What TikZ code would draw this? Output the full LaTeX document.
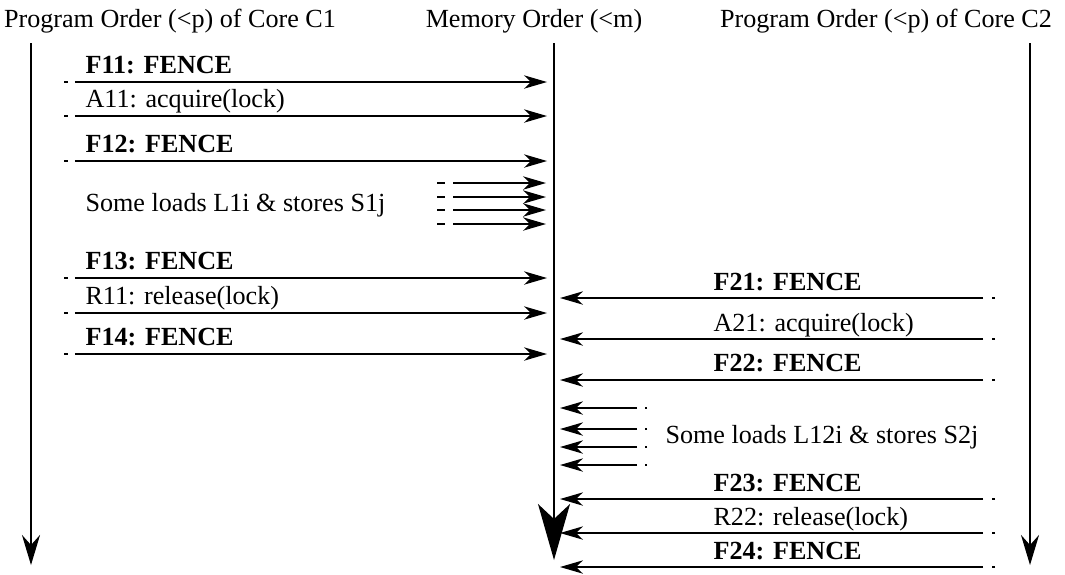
\documentclass[tikz,border=0pt]{standalone}
\usepackage{fontspec}
\setmainfont{Liberation Serif}
\usetikzlibrary{arrows.meta}
\begin{document}
\begin{tikzpicture}[x=0.375pt,y=-0.375pt,
  txt/.style={inner sep=0pt, font=\fontsize{9.8}{11}\selectfont},
  lbl/.style={txt, anchor=base west},
  ttl/.style={txt, anchor=base},
  msg/.style={line width=0.5pt, -{Stealth[length=8.6pt,width=5pt,inset=2.6pt]}},
  lmain/.style={msg, dash pattern=on 1.5pt off 2.6pt on 400pt},
  lsmall/.style={msg, dash pattern=on 3pt off 3pt on 400pt},
  rmain/.style={msg, dash pattern=on 1.1pt off 3.4pt on 400pt},
  rsmall/.style={msg, dash pattern=on 0.75pt off 3pt on 400pt},
  tline/.style={line width=0.5pt, -{Stealth[length=11.3pt,width=6.8pt,inset=3.8pt]}},
  mline/.style={line width=0.5pt, -{Stealth[length=21pt,width=12pt,inset=5.6pt]}},
]
\useasboundingbox (0,0) rectangle (1065,574);

% titles
\node[ttl] (t1) at (170,27) {Program Order (<p) of Core C1};
\node[ttl] (tm) at (534,27) {Memory Order (<m)};
\node[ttl] (t2) at (886,27) {Program Order (<p) of Core C2};

% time lines
\coordinate (c1a) at (31,43);  \coordinate (c1b) at (31,565);
\coordinate (ma)  at (554,43); \coordinate (mb)  at (554,560);
\coordinate (c2a) at (1030,43); \coordinate (c2b) at (1030,565);
\draw[tline] (c1a) -- (c1b);
\draw[mline] (ma) -- (mb);
\draw[tline] (c2a) -- (c2b);

% core 1 labels
\node[lbl] (lf11) at (85,73)  {\textbf{F11: FENCE}};
\node[lbl] (la11) at (85,107) {A11: acquire(lock)};
\node[lbl] (lf12) at (85,152) {\textbf{F12: FENCE}};
\node[lbl] (ls1)  at (85,211) {Some loads L1i \& stores S1j};
\node[lbl] (lf13) at (85,269) {\textbf{F13: FENCE}};
\node[lbl] (lr11) at (85,304) {R11: release(lock)};
\node[lbl] (lf14) at (85,345) {\textbf{F14: FENCE}};

% core 1 arrows
\coordinate (f11s) at (64,82);  \coordinate (f11e) at (547,82);
\coordinate (a11s) at (64,116); \coordinate (a11e) at (547,116);
\coordinate (f12s) at (64,161); \coordinate (f12e) at (547,161);
\coordinate (f13s) at (64,278); \coordinate (f13e) at (547,278);
\coordinate (r11s) at (64,313); \coordinate (r11e) at (547,313);
\coordinate (f14s) at (64,354); \coordinate (f14e) at (547,354);
\draw[lmain] (f11s) -- (f11e);
\draw[lmain] (a11s) -- (a11e);
\draw[lmain] (f12s) -- (f12e);
\draw[lmain] (f13s) -- (f13e);
\draw[lmain] (r11s) -- (r11e);
\draw[lmain] (f14s) -- (f14e);
\coordinate (s1as) at (437,183); \coordinate (s1ae) at (546,183);
\coordinate (s1bs) at (437,197); \coordinate (s1be) at (546,197);
\coordinate (s1cs) at (437,210); \coordinate (s1ce) at (546,210);
\coordinate (s1ds) at (437,224); \coordinate (s1de) at (546,224);
\draw[lsmall] (s1as) -- (s1ae);
\draw[lsmall] (s1bs) -- (s1be);
\draw[lsmall] (s1cs) -- (s1ce);
\draw[lsmall] (s1ds) -- (s1de);

% core 2 labels
\node[lbl] (lf21) at (713,290) {\textbf{F21: FENCE}};
\node[lbl] (la21) at (713,331) {A21: acquire(lock)};
\node[lbl] (lf22) at (713,371) {\textbf{F22: FENCE}};
\node[lbl] (ls2)  at (665,443) {Some loads L12i \& stores S2j};
\node[lbl] (lf23) at (713,491) {\textbf{F23: FENCE}};
\node[lbl] (lr22) at (713,525) {R22: release(lock)};
\node[lbl] (lf24) at (713,559) {\textbf{F24: FENCE}};

% core 2 arrows
\coordinate (f21s) at (995,298); \coordinate (f21e) at (560,298);
\coordinate (a21s) at (995,339); \coordinate (a21e) at (560,339);
\coordinate (f22s) at (995,380); \coordinate (f22e) at (560,380);
\coordinate (f23s) at (995,499); \coordinate (f23e) at (560,499);
\coordinate (r22s) at (995,533); \coordinate (r22e) at (560,533);
\coordinate (f24s) at (995,567); \coordinate (f24e) at (560,567);
\draw[rmain] (f21s) -- (f21e);
\draw[rmain] (a21s) -- (a21e);
\draw[rmain] (f22s) -- (f22e);
\draw[rmain] (f23s) -- (f23e);
\draw[rmain] (r22s) -- (r22e);
\draw[rmain] (f24s) -- (f24e);
\coordinate (s2as) at (647,408); \coordinate (s2ae) at (560,408);
\coordinate (s2bs) at (647,429); \coordinate (s2be) at (560,429);
\coordinate (s2cs) at (647,447); \coordinate (s2ce) at (560,447);
\coordinate (s2ds) at (647,465); \coordinate (s2de) at (560,465);
\draw[rsmall] (s2as) -- (s2ae);
\draw[rsmall] (s2bs) -- (s2be);
\draw[rsmall] (s2cs) -- (s2ce);
\draw[rsmall] (s2ds) -- (s2de);
\end{tikzpicture}
\end{document}
